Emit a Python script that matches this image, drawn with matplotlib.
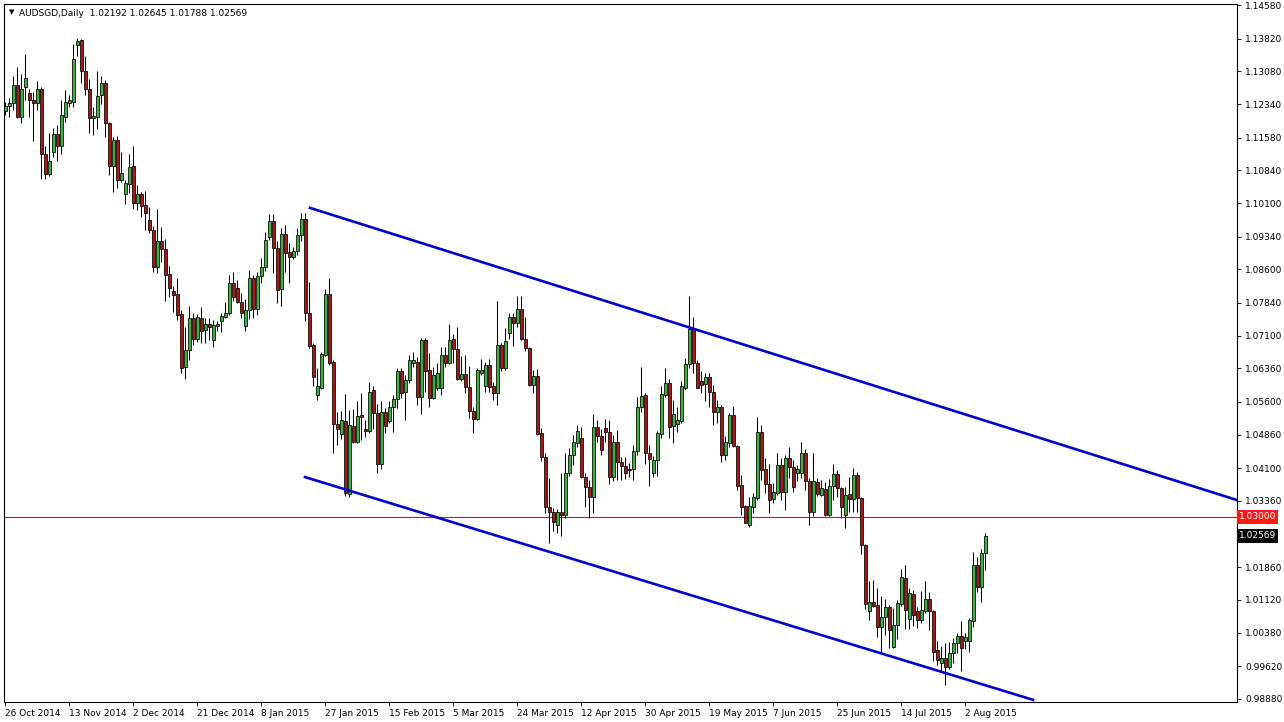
import matplotlib
matplotlib.use('Agg')
import matplotlib.pyplot as plt
import numpy as np

# Datos diarios AUDSGD (apertura, maximo, minimo, cierre)
aperturas = [
    1.1219, 1.1230, 1.1236, 1.1277, 1.1205, 1.1272, 1.1258, 1.1242, 1.1237, 1.1267,
    1.1121, 1.1076, 1.1126, 1.1166, 1.1138, 1.1205, 1.1237, 1.1239, 1.1367, 1.1379,
    1.1309, 1.1269, 1.1202, 1.1204, 1.1254, 1.1282, 1.1192, 1.1094, 1.1153, 1.1062,
    1.1030, 1.1053, 1.1094, 1.1011, 1.1030, 1.1006, 1.0972, 1.0949, 1.0866, 1.0923,
    1.0905, 1.0850, 1.0812, 1.0804, 1.0759, 1.0638, 1.0678, 1.0749, 1.0702, 1.0751,
    1.0723, 1.0736, 1.0700, 1.0732, 1.0742, 1.0753, 1.0762, 1.0830, 1.0817, 1.0785,
    1.0732, 1.0767, 1.0840, 1.0770, 1.0845, 1.0866, 1.0934, 1.0970, 1.0908, 1.0815,
    1.0940, 1.0900, 1.0887, 1.0902, 1.0938, 1.0973, 1.0762, 1.0689, 1.0576, 1.0591,
    1.0666, 1.0804, 1.0651, 1.0510, 1.0488, 1.0516, 1.0352, 1.0506, 1.0470, 1.0531,
    1.0498, 1.0495, 1.0586, 1.0536, 1.0420, 1.0538, 1.0516, 1.0548, 1.0566, 1.0629,
    1.0583, 1.0610, 1.0649, 1.0651, 1.0571, 1.0699, 1.0632, 1.0568, 1.0591, 1.0591,
    1.0666, 1.0649, 1.0702, 1.0679, 1.0611, 1.0623, 1.0593, 1.0540, 1.0521, 1.0625,
    1.0595, 1.0644, 1.0595, 1.0581, 1.0689, 1.0636, 1.0715, 1.0753, 1.0739, 1.0770,
    1.0702, 1.0681, 1.0598, 1.0619, 1.0489, 1.0435, 1.0322, 1.0312, 1.0282, 1.0310,
    1.0304, 1.0399, 1.0440, 1.0468, 1.0478, 1.0390, 1.0367, 1.0344, 1.0504, 1.0483,
    1.0500, 1.0493, 1.0390, 1.0470, 1.0425, 1.0415, 1.0409, 1.0408, 1.0448, 1.0548,
    1.0576, 1.0445, 1.0400, 1.0429, 1.0488, 1.0576, 1.0602, 1.0506, 1.0510, 1.0516,
    1.0591, 1.0646, 1.0727, 1.0649, 1.0608, 1.0601, 1.0616, 1.0583, 1.0538, 1.0549,
    1.0440, 1.0468, 1.0531, 1.0460, 1.0372, 1.0325, 1.0282, 1.0323, 1.0342, 1.0493,
    1.0408, 1.0375, 1.0340, 1.0355, 1.0418, 1.0357, 1.0433, 1.0412, 1.0400, 1.0400,
    1.0444, 1.0380, 1.0312, 1.0378, 1.0350, 1.0362, 1.0304, 1.0369, 1.0397, 1.0365,
    1.0304, 1.0352, 1.0340, 1.0395, 1.0342, 1.0237, 1.0088, 1.0108, 1.0101, 1.0050,
    1.0074, 1.0096, 1.0005, 1.0056, 1.0103, 1.0161, 1.0068, 1.0126, 1.0086, 1.0067,
    1.0088, 1.0114, 1.0088, 0.9998, 0.9969, 0.9980, 0.9961, 0.9992, 1.0014, 1.0031,
    1.0020, 1.0020, 1.0065, 1.0191, 1.0142, 1.02192,
]
maximos = [
    1.1239, 1.1247, 1.1298, 1.1317, 1.1303, 1.1347, 1.1269, 1.1262, 1.1285, 1.1273,
    1.1138, 1.1168, 1.1179, 1.1187, 1.1243, 1.1266, 1.1254, 1.1370, 1.1383, 1.1380,
    1.1343, 1.1290, 1.1228, 1.1309, 1.1297, 1.1288, 1.1194, 1.1160, 1.1162, 1.1126,
    1.1062, 1.1122, 1.1139, 1.1051, 1.1036, 1.1038, 1.1002, 1.0957, 1.0996, 1.0955,
    1.0928, 1.0868, 1.0822, 1.0840, 1.0768, 1.0730, 1.0777, 1.0762, 1.0759, 1.0774,
    1.0749, 1.0749, 1.0745, 1.0742, 1.0761, 1.0785, 1.0847, 1.0853, 1.0836, 1.0806,
    1.0794, 1.0859, 1.0847, 1.0855, 1.0885, 1.0945, 1.0985, 1.0985, 1.0923, 1.0953,
    1.0960, 1.0919, 1.0911, 1.0953, 1.0988, 1.0987, 1.0832, 1.0693, 1.0636, 1.0674,
    1.0815, 1.0840, 1.0655, 1.0538, 1.0540, 1.0578, 1.0542, 1.0543, 1.0561, 1.0581,
    1.0519, 1.0604, 1.0595, 1.0555, 1.0561, 1.0546, 1.0561, 1.0576, 1.0636, 1.0636,
    1.0621, 1.0666, 1.0672, 1.0661, 1.0704, 1.0704, 1.0670, 1.0640, 1.0648, 1.0685,
    1.0684, 1.0736, 1.0714, 1.0730, 1.0663, 1.0666, 1.0641, 1.0549, 1.0636, 1.0657,
    1.0651, 1.0657, 1.0604, 1.0789, 1.0693, 1.0727, 1.0761, 1.0762, 1.0800, 1.0800,
    1.0752, 1.0684, 1.0632, 1.0634, 1.0500, 1.0444, 1.0387, 1.0319, 1.0317, 1.0399,
    1.0445, 1.0455, 1.0485, 1.0508, 1.0503, 1.0399, 1.0384, 1.0533, 1.0518, 1.0498,
    1.0521, 1.0519, 1.0485, 1.0497, 1.0436, 1.0436, 1.0421, 1.0463, 1.0571, 1.0638,
    1.0580, 1.0463, 1.0438, 1.0495, 1.0595, 1.0636, 1.0611, 1.0565, 1.0549, 1.0608,
    1.0659, 1.0800, 1.0752, 1.0655, 1.0629, 1.0626, 1.0625, 1.0598, 1.0565, 1.0553,
    1.0482, 1.0534, 1.0551, 1.0463, 1.0395, 1.0327, 1.0344, 1.0353, 1.0527, 1.0508,
    1.0433, 1.0420, 1.0377, 1.0445, 1.0433, 1.0440, 1.0459, 1.0429, 1.0418, 1.0470,
    1.0453, 1.0387, 1.0444, 1.0387, 1.0384, 1.0378, 1.0385, 1.0420, 1.0405, 1.0367,
    1.0367, 1.0391, 1.0410, 1.0402, 1.0346, 1.0239, 1.0154, 1.0157, 1.0138, 1.0120,
    1.0114, 1.0101, 1.0093, 1.0112, 1.0181, 1.0191, 1.0138, 1.0135, 1.0097, 1.0133,
    1.0154, 1.0129, 1.0090, 1.0018, 1.0007, 1.0014, 1.0016, 1.0025, 1.0038, 1.0065,
    1.0037, 1.0071, 1.0221, 1.0210, 1.0227, 1.02645,
]
minimos = [
    1.1209, 1.1204, 1.1220, 1.1202, 1.1192, 1.1243, 1.1204, 1.1151, 1.1220, 1.1064,
    1.1064, 1.1071, 1.1115, 1.1104, 1.1122, 1.1194, 1.1228, 1.1227, 1.1343, 1.1282,
    1.1254, 1.1168, 1.1164, 1.1177, 1.1234, 1.1160, 1.1073, 1.1036, 1.1045, 1.1058,
    1.1008, 1.1032, 1.0996, 1.0994, 1.0978, 1.0950, 1.0943, 1.0855, 1.0851, 1.0877,
    1.0789, 1.0798, 1.0764, 1.0745, 1.0625, 1.0613, 1.0655, 1.0689, 1.0696, 1.0694,
    1.0694, 1.0700, 1.0684, 1.0721, 1.0719, 1.0749, 1.0757, 1.0789, 1.0783, 1.0749,
    1.0721, 1.0747, 1.0749, 1.0757, 1.0828, 1.0857, 1.0926, 1.0851, 1.0783, 1.0776,
    1.0855, 1.0828, 1.0883, 1.0893, 1.0923, 1.0744, 1.0681, 1.0595, 1.0564, 1.0589,
    1.0663, 1.0644, 1.0445, 1.0463, 1.0476, 1.0347, 1.0346, 1.0468, 1.0468, 1.0474,
    1.0480, 1.0489, 1.0498, 1.0400, 1.0408, 1.0489, 1.0512, 1.0493, 1.0546, 1.0568,
    1.0518, 1.0602, 1.0638, 1.0553, 1.0533, 1.0583, 1.0549, 1.0566, 1.0586, 1.0576,
    1.0640, 1.0646, 1.0648, 1.0610, 1.0608, 1.0580, 1.0523, 1.0489, 1.0519, 1.0621,
    1.0583, 1.0583, 1.0565, 1.0553, 1.0629, 1.0632, 1.0702, 1.0687, 1.0730, 1.0699,
    1.0676, 1.0595, 1.0581, 1.0485, 1.0427, 1.0308, 1.0240, 1.0267, 1.0264, 1.0257,
    1.0297, 1.0393, 1.0418, 1.0459, 1.0387, 1.0323, 1.0297, 1.0308, 1.0470, 1.0440,
    1.0470, 1.0375, 1.0380, 1.0384, 1.0384, 1.0385, 1.0391, 1.0384, 1.0440, 1.0538,
    1.0420, 1.0369, 1.0391, 1.0393, 1.0478, 1.0572, 1.0478, 1.0468, 1.0491, 1.0512,
    1.0587, 1.0636, 1.0626, 1.0591, 1.0581, 1.0561, 1.0549, 1.0508, 1.0513, 1.0425,
    1.0429, 1.0459, 1.0459, 1.0361, 1.0304, 1.0286, 1.0278, 1.0308, 1.0338, 1.0384,
    1.0353, 1.0308, 1.0331, 1.0350, 1.0338, 1.0316, 1.0387, 1.0357, 1.0380, 1.0387,
    1.0361, 1.0282, 1.0301, 1.0347, 1.0347, 1.0301, 1.0302, 1.0337, 1.0346, 1.0297,
    1.0274, 1.0312, 1.0312, 1.0312, 1.0216, 1.0091, 1.0067, 1.0097, 1.0028, 0.9995,
    1.0033, 1.0003, 1.0003, 1.0023, 1.0099, 1.0046, 1.0046, 1.0053, 1.0048, 1.0059,
    1.0082, 1.0044, 0.9973, 0.9965, 0.9950, 0.9920, 0.9955, 0.9969, 0.9993, 0.9952,
    1.0001, 0.9995, 1.0050, 1.0129, 1.0108, 1.01788,
]
cierres = [
    1.1230, 1.1237, 1.1277, 1.1205, 1.1269, 1.1292, 1.1242, 1.1237, 1.1267, 1.1122,
    1.1076, 1.1104, 1.1166, 1.1138, 1.1209, 1.1239, 1.1242, 1.1335, 1.1377, 1.1309,
    1.1269, 1.1202, 1.1207, 1.1252, 1.1282, 1.1192, 1.1094, 1.1153, 1.1062, 1.1079,
    1.1055, 1.1092, 1.1011, 1.1030, 1.1003, 1.0988, 1.0948, 1.0866, 1.0925, 1.0905,
    1.0847, 1.0817, 1.0802, 1.0757, 1.0636, 1.0678, 1.0749, 1.0702, 1.0753, 1.0721,
    1.0736, 1.0729, 1.0734, 1.0736, 1.0754, 1.0762, 1.0830, 1.0798, 1.0785, 1.0761,
    1.0768, 1.0840, 1.0770, 1.0845, 1.0866, 1.0926, 1.0970, 1.0908, 1.0813, 1.0940,
    1.0898, 1.0887, 1.0902, 1.0938, 1.0973, 1.0762, 1.0687, 1.0617, 1.0595, 1.0669,
    1.0804, 1.0649, 1.0510, 1.0498, 1.0518, 1.0353, 1.0508, 1.0470, 1.0528, 1.0527,
    1.0495, 1.0583, 1.0534, 1.0420, 1.0538, 1.0506, 1.0548, 1.0566, 1.0629, 1.0581,
    1.0610, 1.0654, 1.0654, 1.0572, 1.0699, 1.0631, 1.0568, 1.0621, 1.0626, 1.0666,
    1.0649, 1.0700, 1.0679, 1.0613, 1.0623, 1.0593, 1.0540, 1.0521, 1.0632, 1.0632,
    1.0644, 1.0593, 1.0581, 1.0689, 1.0636, 1.0697, 1.0753, 1.0739, 1.0770, 1.0702,
    1.0681, 1.0598, 1.0619, 1.0488, 1.0435, 1.0322, 1.0310, 1.0289, 1.0310, 1.0304,
    1.0399, 1.0440, 1.0470, 1.0495, 1.0390, 1.0367, 1.0344, 1.0504, 1.0482, 1.0451,
    1.0491, 1.0390, 1.0470, 1.0425, 1.0415, 1.0399, 1.0406, 1.0448, 1.0548, 1.0574,
    1.0445, 1.0430, 1.0429, 1.0489, 1.0578, 1.0602, 1.0504, 1.0533, 1.0518, 1.0595,
    1.0646, 1.0724, 1.0649, 1.0591, 1.0598, 1.0616, 1.0583, 1.0538, 1.0549, 1.0440,
    1.0470, 1.0531, 1.0460, 1.0370, 1.0322, 1.0286, 1.0325, 1.0344, 1.0493, 1.0406,
    1.0375, 1.0338, 1.0357, 1.0418, 1.0357, 1.0433, 1.0412, 1.0367, 1.0408, 1.0444,
    1.0380, 1.0310, 1.0380, 1.0352, 1.0365, 1.0304, 1.0370, 1.0397, 1.0365, 1.0323,
    1.0350, 1.0340, 1.0395, 1.0342, 1.0237, 1.0103, 1.0108, 1.0099, 1.0050, 1.0074,
    1.0096, 1.0043, 1.0056, 1.0105, 1.0163, 1.0090, 1.0127, 1.0078, 1.0067, 1.0090,
    1.0114, 1.0088, 0.9995, 0.9976, 0.9980, 0.9961, 0.9992, 1.0014, 1.0031, 1.0003,
    1.0029, 1.0067, 1.0191, 1.0142, 1.0218, 1.02569,
]

# Etiquetas del eje X (una cada 16 barras) y niveles del eje de precios
etiquetas_fechas = ['26 Oct 2014', '13 Nov 2014', '2 Dec 2014', '21 Dec 2014',
                    '8 Jan 2015', '27 Jan 2015', '15 Feb 2015', '5 Mar 2015',
                    '24 Mar 2015', '12 Apr 2015', '30 Apr 2015', '19 May 2015',
                    '7 Jun 2015', '25 Jun 2015', '14 Jul 2015', '2 Aug 2015']
niveles_precio = [1.14580, 1.13820, 1.13080, 1.12340, 1.11580, 1.10840, 1.10100,
                  1.09340, 1.08600, 1.07840, 1.07100, 1.06360, 1.05600, 1.04860,
                  1.04100, 1.03360, 1.01860, 1.01120, 1.00380, 0.99620, 0.98880]

nivel_soporte = 1.03000
ultimo_precio = 1.02569

# Canal bajista (indice de barra, precio)
canal_sup_x = [76.25, 308]
canal_sup_y = [1.0999, 1.0338]
canal_inf_x = [75, 257]
canal_inf_y = [1.0390, 0.9886]

o = np.array(aperturas)
h = np.array(maximos)
l = np.array(minimos)
c = np.array(cierres)
x = np.arange(len(o))
sube = c >= o

fig = plt.figure(figsize=(12.84, 7.22), dpi=100)
ax = fig.add_axes([4 / 1284, 20 / 722, 1233 / 1284, 698 / 722])
ax.set_xlim(-0.25, 308)
ax.set_ylim(0.98811, 1.14603)

# Velas
ax.vlines(x, l, h, color='black', linewidth=0.75, zorder=2)
ax.bar(x[sube], (c - o)[sube], bottom=o[sube], width=0.75, color='#3fae45',
       edgecolor='black', linewidth=0.55, zorder=3)
ax.bar(x[~sube], (o - c)[~sube], bottom=c[~sube], width=0.75, color='#a01a1a',
       edgecolor='black', linewidth=0.55, zorder=3)

# Lineas del canal y nivel horizontal
ax.plot(canal_sup_x, canal_sup_y, color='#0000cc', linewidth=1.9, zorder=4)
ax.plot(canal_inf_x, canal_inf_y, color='#0000cc', linewidth=1.9, zorder=4)
ax.axhline(nivel_soporte, color='red', linewidth=0.8, zorder=1)

# Ejes estilo MT4
ax.yaxis.tick_right()
ax.set_yticks(niveles_precio)
ax.set_yticklabels(['%.5f' % v for v in niveles_precio])
ax.set_xticks(np.arange(len(etiquetas_fechas)) * 16)
ax.set_xticklabels(etiquetas_fechas, ha='left')
ax.tick_params(axis='y', labelsize=6.5, length=3, width=0.6, pad=3)
ax.tick_params(axis='x', labelsize=6.5, length=3, width=0.6, pad=2)
for s in ax.spines.values():
    s.set_linewidth(0.8)

# Cajas de precio a la derecha
ax.text(1.0015, nivel_soporte, '%.5f' % nivel_soporte, transform=ax.get_yaxis_transform(),
        color='white', fontsize=6.5, va='center', ha='left', clip_on=False,
        bbox=dict(boxstyle='square,pad=0.25', fc='#ff1a1a', ec='none'))
ax.text(1.0015, ultimo_precio, '%.5f' % ultimo_precio, transform=ax.get_yaxis_transform(),
        color='white', fontsize=6.5, va='center', ha='left', clip_on=False,
        bbox=dict(boxstyle='square,pad=0.25', fc='black', ec='none'))

# Titulo del simbolo
ax.text(0.004, 0.992, '\u25bc', transform=ax.transAxes, fontsize=5, va='top', ha='left')
ax.text(0.0125, 0.993, 'AUDSGD,Daily  %.5f %.5f %.5f %.5f' % (o[-1], h[-1], l[-1], c[-1]),
        transform=ax.transAxes, fontsize=6.5, va='top', ha='left')

fig.savefig('out.png', dpi=100, facecolor='white')
